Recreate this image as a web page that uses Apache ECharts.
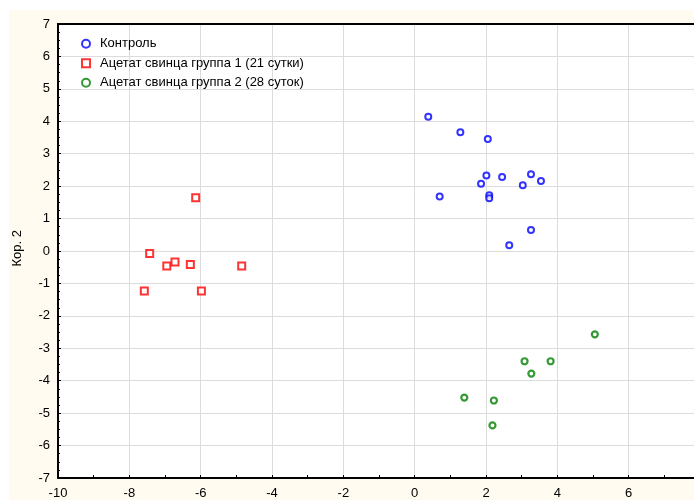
<!DOCTYPE html>
<html>
<head>
<meta charset="utf-8">
<script src="https://cdn.jsdelivr.net/npm/echarts@6/dist/echarts.min.js"></script>
<style>
html,body{margin:0;padding:0;background:#ffffff;}
#c{width:694px;height:500px;}
</style>
</head>
<body>
<div id="c"></div>
<script>
var seriesNames = ['Контроль', 'Ацетат свинца группа 1 (21 сутки)', 'Ацетат свинца группа 2 (28 суток)'];
var controlX = [0.38, 1.28, 2.05, 2.01, 2.45, 3.26, 1.86, 3.03, 3.54, 0.70, 2.09, 2.09, 3.26, 2.65];
var controlY = [4.14, 3.66, 3.45, 2.33, 2.28, 2.37, 2.07, 2.03, 2.16, 1.68, 1.72, 1.63, 0.65, 0.18];
var group1X = [-6.14, -7.43, -6.95, -6.72, -6.29, -4.85, -7.58, -5.98];
var group1Y = [1.64, -0.08, -0.46, -0.34, -0.42, -0.46, -1.23, -1.23];
var group2X = [5.05, 3.08, 3.81, 3.27, 1.39, 2.22, 2.18];
var group2Y = [-2.57, -3.40, -3.40, -3.78, -4.52, -4.61, -5.38];
var yAxisTitle = 'Кор. 2';

function pairs(xs, ys) { return xs.map(function (x, i) { return [x, ys[i]]; }); }

var chart = echarts.init(document.getElementById('c'), null, {renderer: 'canvas'});
var font = 'Liberation Sans, Arial, sans-serif';
chart.setOption({
  animation: false,
  backgroundColor: '#ffffff',
  graphic: [{
    type: 'rect', z: -10, silent: true,
    shape: {x: 9, y: 10, width: 700, height: 500},
    style: {fill: '#fffbf0'}
  }, {
    type: 'text', left: 11, top: 230, rotation: Math.PI / 2,
    style: {text: yAxisTitle, font: '13px ' + font, fill: '#000'},
    silent: true
  }, {
    type: 'line', silent: true, z: 10,
    shape: {x1: 57, y1: 24, x2: 694, y2: 24},
    style: {stroke: '#000', lineWidth: 2}
  }],
  grid: {left: 58, top: 24, right: 0, bottom: 22, show: true, backgroundColor: '#ffffff', borderWidth: 0, containLabel: false},
  legend: {
    orient: 'vertical', left: 76, top: 32,
    itemWidth: 8, itemHeight: 8, itemGap: 6,
    textStyle: {fontFamily: font, fontSize: 13, color: '#000', lineHeight: 13.5, padding: [0, 0, 0, 5]},
    data: seriesNames
  },
  xAxis: {
    type: 'value', min: -10, max: 7.83, interval: 2,
    axisLine: {onZero: false, lineStyle: {color: '#000', width: 2}},
    axisTick: {inside: true, length: 3, lineStyle: {color: '#000'}},
    minorTick: {show: true, splitNumber: 2, length: 3, lineStyle: {color: '#000'}},
    axisLabel: {fontFamily: font, fontSize: 13, color: '#000', margin: 9, showMaxLabel: false},
    splitLine: {show: true, showMaxLine: false, lineStyle: {color: '#dcdcdc', width: 1}}
  },
  yAxis: [{
    type: 'value', min: -7, max: 7, interval: 1,
    axisLine: {onZero: false, lineStyle: {color: '#000', width: 2}},
    axisTick: {inside: true, length: 3, lineStyle: {color: '#000'}},
    minorTick: {show: true, splitNumber: 4, length: 2, lineStyle: {color: '#000'}},
    axisLabel: {fontFamily: font, fontSize: 13, color: '#000', margin: 8},
    splitLine: {show: true, lineStyle: {color: '#dcdcdc', width: 1}}
  }],
  series: [{
    name: seriesNames[0], type: 'scatter', symbol: 'circle', symbolSize: 6,
    itemStyle: {color: '#ffffff', borderColor: '#0000ff', borderWidth: 2},
    data: pairs(controlX, controlY)
  }, {
    name: seriesNames[1], type: 'scatter', symbol: 'rect', symbolSize: 7,
    itemStyle: {color: '#ffffff', borderColor: '#ff0000', borderWidth: 2},
    data: pairs(group1X, group1Y)
  }, {
    name: seriesNames[2], type: 'scatter', symbol: 'circle', symbolSize: 6,
    itemStyle: {color: '#ffffff', borderColor: '#008000', borderWidth: 2.2},
    data: pairs(group2X, group2Y)
  }]
});
</script>
</body>
</html>
